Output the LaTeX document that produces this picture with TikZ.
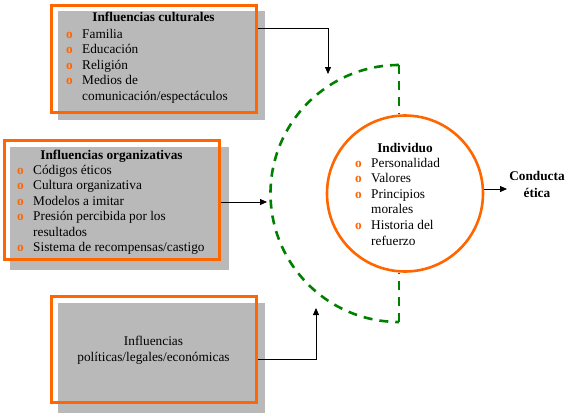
\documentclass[tikz,border=0pt]{standalone}
\usepackage{fontspec}
\setmainfont{Liberation Serif}
\usetikzlibrary{arrows.meta}
\definecolor{borange}{RGB}{255,102,0}
\definecolor{dgreen}{RGB}{0,128,0}
\definecolor{shade}{RGB}{185,185,185}
\tikzset{
  obox/.style={draw=borange, line width=3pt, inner sep=0pt},
  shadowbox/.style={fill=shade},
  txt/.style={anchor=base west, inner sep=0pt, font=\fontsize{13.3}{15}\selectfont},
  ttl/.style={anchor=base, inner sep=0pt, font=\fontsize{13.3}{15}\selectfont\bfseries},
  bul/.style={anchor=base west, inner sep=0pt, text=borange, font=\fontsize{13.3}{15}\selectfont\bfseries},
  arr/.style={-{Triangle[length=7pt,width=6pt]}, line width=0.8pt},
  gdash/.style={draw=dgreen, line width=2.6pt, dash pattern=on 9pt off 7pt},
}
\begin{document}
\begin{tikzpicture}[x=1pt,y=1pt]
\useasboundingbox (0,0) rectangle (582,-416);
% shadows
\fill[shadowbox] (58,-11) rectangle (265,-120);
\fill[shadowbox] (10,-147) rectangle (229,-270);
\fill[shadowbox] (58,-303) rectangle (265,-413);
% boxes
\node[obox, minimum width=205pt, minimum height=107pt] (box1) at (153.5,-58.5) {};
\node[obox, minimum width=215pt, minimum height=119pt] (box2) at (111.5,-199.5) {};
\node[obox, minimum width=205pt, minimum height=106pt] (box3) at (153.5,-349.5) {};
% box1 text
\node[ttl] (t1) at (153.5,-21) {Influencias culturales};
\foreach \t [count=\i] in {Familia, Educación, Religión, Medios de, comunicación/espectáculos}
  \node[txt] (b1l\i) at (82,{-38-(\i-1)*15.6}) {\t};
\foreach \i in {1,2,3,4}
  \node[bul] (b1b\i) at (66,{-38-(\i-1)*15.6}) {o};
% box2 text
\node[ttl] (t2) at (111.5,-159) {Influencias organizativas};
\foreach \t [count=\i] in {Códigos éticos, Cultura organizativa, Modelos a imitar, Presión percibida por los, resultados, Sistema de recompensas/castigo}
  \node[txt] (b2l\i) at (33,{-174-(\i-1)*15.5}) {\t};
\foreach \i in {1,2,3,4,6}
  \node[bul] (b2b\i) at (17,{-174-(\i-1)*15.5}) {o};
% box3 text
\node[txt, anchor=base] (t3a) at (153.5,-345) {Influencias};
\node[txt, anchor=base] (t3b) at (153.5,-361) {políticas/legales/económicas};
% circle
\node[draw=borange, line width=2.6pt, circle, minimum size=156pt, inner sep=0pt] (ind) at (405,-193.5) {};
\node[ttl] (t4) at (405,-152) {Individuo};
\foreach \t/\yy in {Personalidad/167, Valores/182.5, Principios/198, morales/213.5, Historia del/229, refuerzo/245}
  \node[txt] at (371,-\yy) {\t};
\foreach \yy in {167,182.5,198,229}
  \node[bul] at (355,-\yy) {o};
% dashed semicircle
\coordinate (atop) at (399,-65);
\coordinate (abot) at (399,-322);
\draw[gdash] (atop) arc[start angle=90, end angle=270, radius=128.5];
\draw[gdash] (atop) -- (atop |- ind.north);
\draw[gdash] (abot) -- (abot |- ind.south);
% output
\node[ttl] (out1) at (537,-180) {Conducta};
\node[ttl] (out2) at (537,-197) {ética};
% arrows
\coordinate (tip1) at (328,-74);
\coordinate (tip2) at (267,-202);
\coordinate (tip3) at (316,-308);
\coordinate (tip4) at (507,-189);
\draw[arr] (box1.east |- 0,-28) -| (tip1);
\draw[arr] (box2.east |- 0,-202) -- (tip2);
\draw[arr] (box3.east |- 0,-359) -| (tip3);
\draw[arr] (ind.east |- 0,-189) -- (tip4);
\end{tikzpicture}
\end{document}
